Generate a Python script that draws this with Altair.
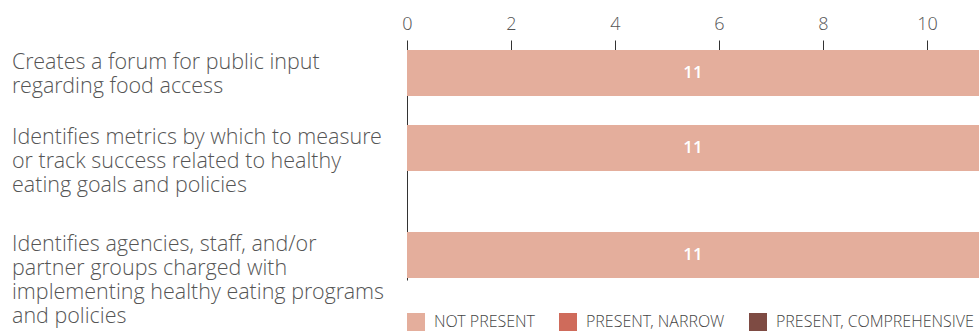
import altair as alt
import pandas as pd

# Policy measures (one list of wrapped lines per row)
measures = [
    ["Creates a forum for public input", "regarding food access"],
    ["Identifies metrics by which to measure", "or track success related to healthy",
     "eating goals and policies"],
    ["Identifies agencies, staff, and/or", "partner groups charged with",
     "implementing healthy eating programs", "and policies"],
]
statuses = ["NOT PRESENT", "PRESENT, NARROW", "PRESENT, COMPREHENSIVE"]
status_colors = ["#e4ae9c", "#cf6b5b", "#7e4b43"]

# Number of plans in each status, per measure
not_present = [11, 11, 11]
present_narrow = [0, 0, 0]
present_comprehensive = [0, 0, 0]

x_ticks = [0, 2, 4, 6, 8, 10]
x_max = 11

# Row layout: each row is as tall as its wrapped label needs
row_heights = [75, 107, 48]
bar_thickness = 46
label_gutter = 395.5

FONT = "Open Sans"
LIGHT_FONT = "'Open Sans Light', 'Open Sans'"
series = [not_present, present_narrow, present_comprehensive]


def row_chart(i):
    label = "|".join(measures[i])
    df = pd.DataFrame({
        "measure": [label] * len(statuses),
        "status": statuses,
        "order": list(range(len(statuses))),
        "count": [s[i] for s in series],
    })
    h = row_heights[i]
    pad_outer = (h / bar_thickness - 1) / 2

    y_scale = alt.Scale(paddingInner=0, paddingOuter=pad_outer, align=0)
    y_axis = alt.Axis(
        domain=True, domainColor="#333", domainWidth=1,
        ticks=False, tickSize=0,
        labelAlign="left", labelBaseline="top",
        labelPadding=label_gutter, labelOffset=-21,
        labelExpr="split(datum.label, '|')",
        labelFont=LIGHT_FONT, labelFontSize=21.5, labelFontWeight=300,
        labelLineHeight=24, labelColor="#555", labelLimit=0,
    )
    if i == 0:
        x_axis = alt.Axis(
            orient="top", values=x_ticks, domain=False, grid=False,
            tickSize=10, tickColor="#333", tickWidth=1,
            labelFont=LIGHT_FONT, labelFontSize=18, labelFontWeight=300,
            labelColor="#555", labelPadding=7, labelFlush=False,
            title=None, format="d",
        )
    else:
        x_axis = None
    x_scale = alt.Scale(domain=[0, x_max], nice=False)

    color = alt.Color(
        "status:N",
        scale=alt.Scale(domain=statuses, range=status_colors),
        legend=alt.Legend(
            title=None, orient="none", legendX=0, legendY=263,
            direction="horizontal", columns=3,
            symbolType="square", symbolSize=324, symbolStrokeWidth=0,
            symbolOpacity=1,
            labelFont=LIGHT_FONT, labelFontSize=16, labelFontWeight=300,
            labelColor="#444", labelOffset=9, columnPadding=24,
            padding=0, labelLimit=0,
        ),
    )

    base = alt.Chart(df).transform_stack(
        stack="count", groupby=["measure"], as_=["x0", "x1"],
        sort=[alt.SortField("order", order="ascending")],
    ).transform_calculate(mid="(datum.x0 + datum.x1) / 2")

    y = alt.Y("measure:N", title=None, scale=y_scale, axis=y_axis)

    bars = base.mark_bar().encode(
        y=y,
        x=alt.X("x0:Q", scale=x_scale, axis=x_axis, title=None),
        x2="x1:Q",
        color=color,
    )
    text = base.transform_filter("datum.count > 0").mark_text(
        color="white", font=FONT, fontSize=17, fontWeight=600, baseline="middle",
    ).encode(
        y=y,
        x=alt.X("mid:Q", scale=x_scale, axis=x_axis, title=None),
        text=alt.Text("count:Q"),
    )
    return alt.layer(bars, text).properties(width=572, height=h)


chart = alt.vconcat(*[row_chart(i) for i in range(len(measures))], spacing=0).properties(
    padding={"left": 11, "top": 15, "right": 0, "bottom": 0},
    background="white",
).configure_view(stroke=None)

chart.save("out.html", embed_options={"renderer": "svg", "actions": False})
